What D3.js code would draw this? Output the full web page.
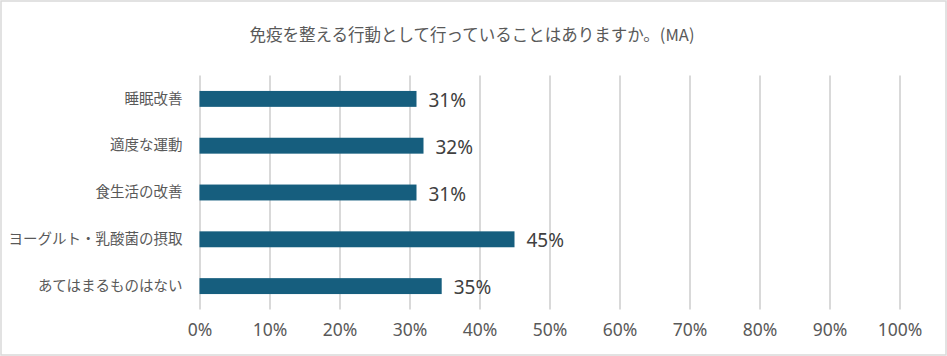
<!DOCTYPE html>
<html><head><meta charset="utf-8">
<script src="https://cdn.jsdelivr.net/npm/d3@7"></script>
<style>
html,body{margin:0;padding:0;background:#fff;}
svg{display:block;font-family:"Noto Sans CJK JP","Noto Sans",sans-serif;}
</style></head>
<body>
<svg id="chart" width="947" height="356"></svg>
<script>
const title = "免疫を整える行動として行っていることはありますか。(MA)";
const categories = ["睡眠改善","適度な運動","食生活の改善","ヨーグルト・乳酸菌の摂取","あてはまるものはない"];
const values = [31, 32, 31, 45, 34.6];
const valueLabels = ["31%","32%","31%","45%","35%"];
const tickValues = [0,10,20,30,40,50,60,70,80,90,100];

const svg = d3.select("#chart");
const W = 947, H = 356;
svg.append("rect").attr("x",1).attr("y",1).attr("width",W-2).attr("height",H-2)
  .attr("fill","#fff").attr("stroke","#d9d9d9").attr("stroke-width",1.5);

svg.append("text").attr("x",472).attr("y",34).attr("text-anchor","middle")
  .attr("dominant-baseline","central").attr("font-size",16.5).attr("fill","#595959").text(title);

const x = d3.scaleLinear().domain([0,100]).range([199.5,899.5]);
const y = d3.scaleBand().domain(categories).range([75.5,309.5]).paddingInner(0.66).paddingOuter(0.33);

// gridlines
const xAxis = d3.axisBottom(x).tickValues(tickValues).tickFormat(d=>d+"%").tickSize(-(309.5-75.5)).tickPadding(14);
const gx = svg.append("g").attr("transform","translate(0,309.5)").call(xAxis);
gx.select(".domain").remove();
gx.selectAll(".tick line").attr("stroke","#d9d9d9").attr("stroke-width",2);
gx.selectAll(".tick text").attr("font-size",17.5).attr("fill","#595959")
  .attr("font-family","'Noto Sans',sans-serif");

// category labels
const yAxis = d3.axisLeft(y).tickSize(0).tickPadding(17);
const gy = svg.append("g").attr("transform","translate(199.5,0)").call(yAxis);
gy.select(".domain").remove();
gy.selectAll(".tick text").attr("font-size",14.5).attr("fill","#595959")
  .attr("font-family","'Noto Sans CJK JP',sans-serif");

// bars
svg.append("g").selectAll("rect").data(categories).join("rect")
  .attr("x",x(0)).attr("y",d=>y(d)).attr("height",y.bandwidth())
  .attr("width",(d,i)=>x(values[i])-x(0)).attr("fill","#165e7e");

// data labels
svg.append("g").selectAll("text").data(categories).join("text")
  .attr("x",(d,i)=>x(values[i])+12).attr("y",d=>y(d)+y.bandwidth()/2+1)
  .attr("dominant-baseline","central").attr("font-size",19).attr("fill","#404040")
  .attr("font-family","'Noto Sans',sans-serif")
  .text((d,i)=>valueLabels[i]);
</script>
</body></html>
